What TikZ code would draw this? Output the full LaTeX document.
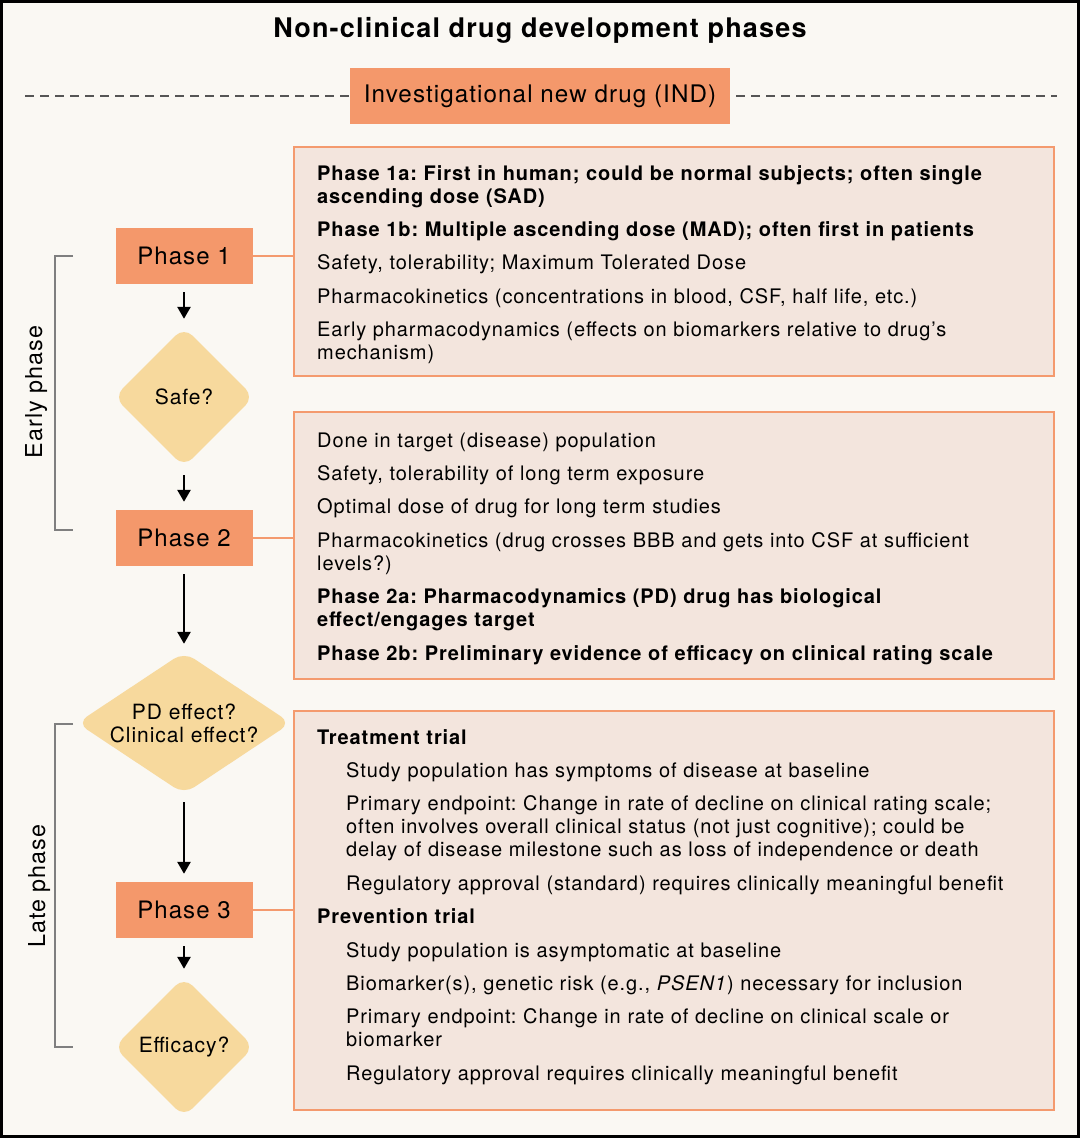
\documentclass[tikz,border=0pt]{standalone}
\usepackage{fontspec}
\setmainfont{TeX Gyre Heros}[LetterSpace=4.5]
\usepackage{tikz}
\usetikzlibrary{
	arrows.meta,
	positioning,
	shapes.geometric
}
\usepackage{xcolor}

\definecolor{bgcol}{HTML}{FAF8F3}
\definecolor{phaseorange}{HTML}{F4986B}
\definecolor{boxfill}{HTML}{F3E5DD}
\definecolor{boxline}{HTML}{F49A6E}
\definecolor{decyellow}{HTML}{F7D99D}
\definecolor{bracketgray}{HTML}{7F7F7F}
\definecolor{dashgray}{HTML}{555555}

\frenchspacing
\newcommand\nxt{\par\vspace{10.4pt}}
\newcommand\inditem[1]{\par\vspace{10.4pt}{\leftskip=29pt\relax #1\par}}

\begin{document}
\begin{tikzpicture}[x=1pt,y=-1pt,>=Stealth,
	phasebox/.style={rectangle,fill=phaseorange,minimum width=137pt,minimum height=56pt,inner sep=0pt,font=\fontsize{24}{27}\selectfont},
	decision/.style={diamond,fill=decyellow,rounded corners=12pt,inner sep=0pt,align=center,font=\fontsize{21}{23}\selectfont},
	infobox/.style={rectangle,draw=boxline,line width=2pt,fill=boxfill,anchor=north west},
	infotext/.style={anchor=base west,inner sep=0pt,text width=745pt,align=left,font=\frenchspacing\fontsize{20}{23}\selectfont},
	flowarrow/.style={-{Triangle[width=13pt,length=12pt]},line width=2.6pt,shorten <=8pt,shorten >=8pt},
	link/.style={draw=boxline,line width=1.8pt},
	bracketline/.style={draw=bracketgray,line width=1.5pt},
	sidelabel/.style={rotate=90,anchor=base,inner sep=0pt,font=\fontsize{23.3}{28}\selectfont}
	]
		
		\useasboundingbox (0,0) rectangle (1080,1138);
		\draw[line width=3pt,fill=bgcol] (1.5,1.5) rectangle (1078.5,1136.5);
		
		%---------------- Header ----------------%
		
		\node[anchor=base,inner sep=0pt,font=\bfseries\fontsize{27}{31}\selectfont] (title) at (540,37)
		{Non-clinical drug development phases};
		
		\node[rectangle,fill=phaseorange,minimum width=380pt,minimum height=56pt,inner sep=0pt,font=\fontsize{24.2}{29}\selectfont] (ind) at (540,96)
		{Investigational new drug (IND)};
		
		\coordinate (dashl) at (25,96);
		\coordinate (dashr) at (1057,96);
		\draw[dashgray,line width=2pt,dash pattern=on 9pt off 6pt] (dashl)--(ind.west);
		\draw[dashgray,line width=2pt,dash pattern=on 9pt off 6pt,shorten <=6pt] (ind.east)--(dashr);
		
		%---------------- Flow ----------------%
		
		\node[phasebox] (phaseone) at (184,256) {Phase 1};
		\node[decision,minimum width=140pt,minimum height=140pt] (safe) at (184,397) {Safe?};
		\node[phasebox] (phasetwo) at (184,538) {Phase 2};
		\node[decision,aspect=1.5,minimum width=214pt,minimum height=142pt,inner sep=-3pt] (pdeff) at (184,723)
		{PD effect?\\Clinical effect?};
		\node[phasebox] (phasethree) at (184,910) {Phase 3};
		\node[decision,minimum width=140pt,minimum height=140pt] (efficacy) at (184,1047) {Efficacy?};
		
		\draw[flowarrow] (phaseone)--(safe);
		\draw[flowarrow] (safe)--(phasetwo);
		\draw[flowarrow] (phasetwo)--(pdeff);
		\draw[flowarrow] (pdeff)--(phasethree);
		\draw[flowarrow] (phasethree)--(efficacy);
		
		%---------------- Brackets ----------------%
		
		\draw[bracketline] (73,256)--(55,256)--(55,530)--(73,530);
		\node[sidelabel] (earlylbl) at (42,392) {Early phase};
		
		\draw[bracketline] (73,724)--(55,724)--(55,1047)--(73,1047);
		\node[sidelabel] (latelbl) at (45,886) {Late phase};
		
		%---------------- Details ----------------%
		
		\node[infobox,minimum width=760pt,minimum height=229pt] (infoone) at (293,146) {};
		\node[infobox,minimum width=760pt,minimum height=267pt] (infotwo) at (293,411) {};
		\node[infobox,minimum width=760pt,minimum height=399pt] (infothree) at (293,710) {};
		
		\draw[link] (phaseone.east)--(phaseone -| infoone.west);
		\draw[link] (phasetwo.east)--(phasetwo -| infotwo.west);
		\draw[link] (phasethree.east)--(phasethree -| infothree.west);
		
		\node[infotext] (txtone) at (317,180)
		{\textbf{Phase 1a: First in human; could be normal subjects; often single\\ ascending dose (SAD)}\nxt
		\textbf{Phase 1b: Multiple ascending dose (MAD); often first in patients}\nxt
		Safety, tolerability; Maximum Tolerated Dose\nxt
		Pharmacokinetics (concentrations in blood, CSF, half life, etc.)\nxt
		Early pharmacodynamics (effects on biomarkers relative to drug’s\\ mechanism)};
		
		\node[infotext] (txttwo) at (317,447)
		{Done in target (disease) population\nxt
		Safety, tolerability of long term exposure\nxt
		Optimal dose of drug for long term studies\nxt
		Pharmacokinetics (drug crosses BBB and gets into CSF at sufficient\\ levels?)\nxt
		\textbf{Phase 2a: Pharmacodynamics (PD) drug has biological\\ effect/engages target}\nxt
		\textbf{Phase 2b: Preliminary evidence of efficacy on clinical rating scale}};
		
		\node[infotext] (txtthree) at (317,744)
		{\textbf{Treatment trial}
		\inditem{Study population has symptoms of disease at baseline}
		\inditem{Primary endpoint: Change in rate of decline on clinical rating scale;\\ often involves overall clinical status (not just cognitive); could be\\ delay of disease milestone such as loss of independence or death}
		\inditem{Regulatory approval (standard) requires clinically meaningful benefit}
		\nxt\textbf{Prevention trial}
		\inditem{Study population is asymptomatic at baseline}
		\inditem{Biomarker(s), genetic risk (e.g., \textit{PSEN1}) necessary for inclusion}
		\inditem{Primary endpoint: Change in rate of decline on clinical scale or\\ biomarker}
		\inditem{Regulatory approval requires clinically meaningful benefit}};
		
	\end{tikzpicture}
\end{document}
